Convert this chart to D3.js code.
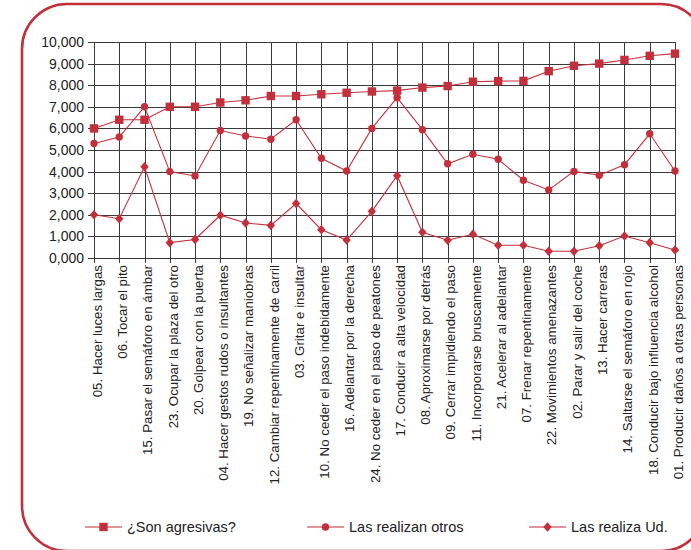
<!DOCTYPE html>
<html><head><meta charset="utf-8">
<script src="https://cdn.jsdelivr.net/npm/d3@7"></script>
<style>html,body{margin:0;padding:0;background:#fff;}svg{display:block;}</style>
</head><body>
<svg id="c" width="691" height="550"></svg>
<script>
const categories = [
"05. Hacer luces largas","06. Tocar el pito","15. Pasar el semáforo en ámbar","23. Ocupar la plaza del otro",
"20. Golpear con la puerta","04. Hacer gestos rudos o insultantes","19. No señalizar maniobras",
"12. Cambiar repentinamente de carril","03. Gritar e insultar","10. No ceder el paso indebidamente",
"16. Adelantar por la derecha","24. No ceder en el paso de peatones","17. Conducir a alta velocidad",
"08. Aproximarse por detrás","09. Cerrar impidiendo el paso","11. Incorporarse bruscamente",
"21. Acelerar al adelantar","07. Frenar repentinamente","22. Movimientos amenazantes",
"02. Parar y salir del coche","13. Hacer carreras","14. Saltarse el semáforo en rojo",
"18. Conducir bajo influencia alcohol","01. Producir daños a otras personas"];
const agresivas = [6000,6400,6400,7000,7000,7200,7300,7500,7500,7580,7650,7710,7750,7890,7960,8160,8190,8200,8650,8900,9000,9170,9360,9460];
const realizanOtros = [5300,5600,7000,4000,3800,5900,5650,5500,6400,4620,4030,6000,7420,5940,4360,4800,4570,3600,3150,4010,3830,4320,5750,4030];
const realizaUd = [2000,1820,4220,710,860,1980,1620,1510,2520,1310,830,2160,3810,1190,820,1100,590,590,310,310,570,1020,710,370];
const yTickValues = [0,1000,2000,3000,4000,5000,6000,7000,8000,9000,10000];
const yTickLabels = ["0,000","1,000","2,000","3,000","4,000","5,000","6,000","7,000","8,000","9,000","10,000"];
const seriesNames = ["¿Son agresivas?","Las realizan otros","Las realiza Ud."];

const svg = d3.select("#c");
const RED = "#c3303b";
const font = "'Liberation Sans', Arial, Helvetica, sans-serif";

// frame
svg.append("rect").attr("x",22).attr("y",4).attr("width",684).attr("height",547)
  .attr("rx",45).attr("ry",45).attr("fill","none").attr("stroke",RED).attr("stroke-width",2.6);

const x = d3.scalePoint().domain(categories).range([94,675]);
const y = d3.scaleLinear().domain([0,10000]).range([258,42]);

const g = svg.append("g");
// grid
g.selectAll("line.h").data(yTickValues).join("line")
  .attr("x1",88).attr("x2",675).attr("y1",d=>Math.round(y(d))+0.5).attr("y2",d=>Math.round(y(d))+0.5)
  .attr("stroke","#3a3a3a").attr("stroke-width",1);
g.selectAll("line.v").data(categories).join("line")
  .attr("y1",42).attr("y2",263).attr("x1",d=>Math.round(x(d))+0.5).attr("x2",d=>Math.round(x(d))+0.5)
  .attr("stroke","#3a3a3a").attr("stroke-width",1);

// y labels
g.selectAll("text.yl").data(yTickValues).join("text")
  .attr("x",84).attr("y",d=>y(d)).attr("dy","0.36em").attr("text-anchor","end")
  .attr("font-family",font).attr("font-size",14).attr("fill","#222")
  .text((d,i)=>yTickLabels[i]);

// x labels
g.selectAll("text.xl").data(categories).join("text")
  .attr("transform",d=>`translate(${x(d)+3},265) rotate(-90)`)
  .attr("dy","0.36em").attr("text-anchor","end")
  .attr("font-family",font).attr("font-size",13.3).attr("fill","#222")
  .text(d=>d);

const line = d3.line().x((d,i)=>x(categories[i])).y(d=>y(d));
const sq = s => `M${-s},${-s}h${2*s}v${2*s}h${-2*s}Z`;
const dia = (w,h) => `M0,${-h}L${w},0L0,${h}L${-w},0Z`;
const markers = [
  p => p.append("path").attr("d",sq(4.2)),
  p => p.append("circle").attr("r",3.7),
  p => p.append("path").attr("d",dia(4.2,4.8))
];
const data = [agresivas, realizanOtros, realizaUd];

data.forEach((arr,k)=>{
  g.append("path").attr("d",line(arr)).attr("fill","none").attr("stroke",RED).attr("stroke-width",1.1);
});
data.forEach((arr,k)=>{
  arr.forEach((v,i)=>{
    const p = g.append("g").attr("transform",`translate(${x(categories[i])},${y(v)})`).attr("fill",RED);
    markers[k](p);
  });
});

// legend
const legX = [85,307,529];
const ly = 527;
seriesNames.forEach((n,k)=>{
  const lg = svg.append("g").attr("transform",`translate(${legX[k]},${ly})`);
  lg.append("line").attr("x1",0).attr("x2",37).attr("y1",0).attr("y2",0).attr("stroke","#e0939a").attr("stroke-width",2);
  const p = lg.append("g").attr("transform","translate(18.5,0)").attr("fill",RED);
  markers[k](p);
  lg.append("text").attr("x",42).attr("y",0).attr("dy","0.36em")
    .attr("font-family",font).attr("font-size",14.5).attr("fill","#222").text(n);
});
</script>
</body></html>
